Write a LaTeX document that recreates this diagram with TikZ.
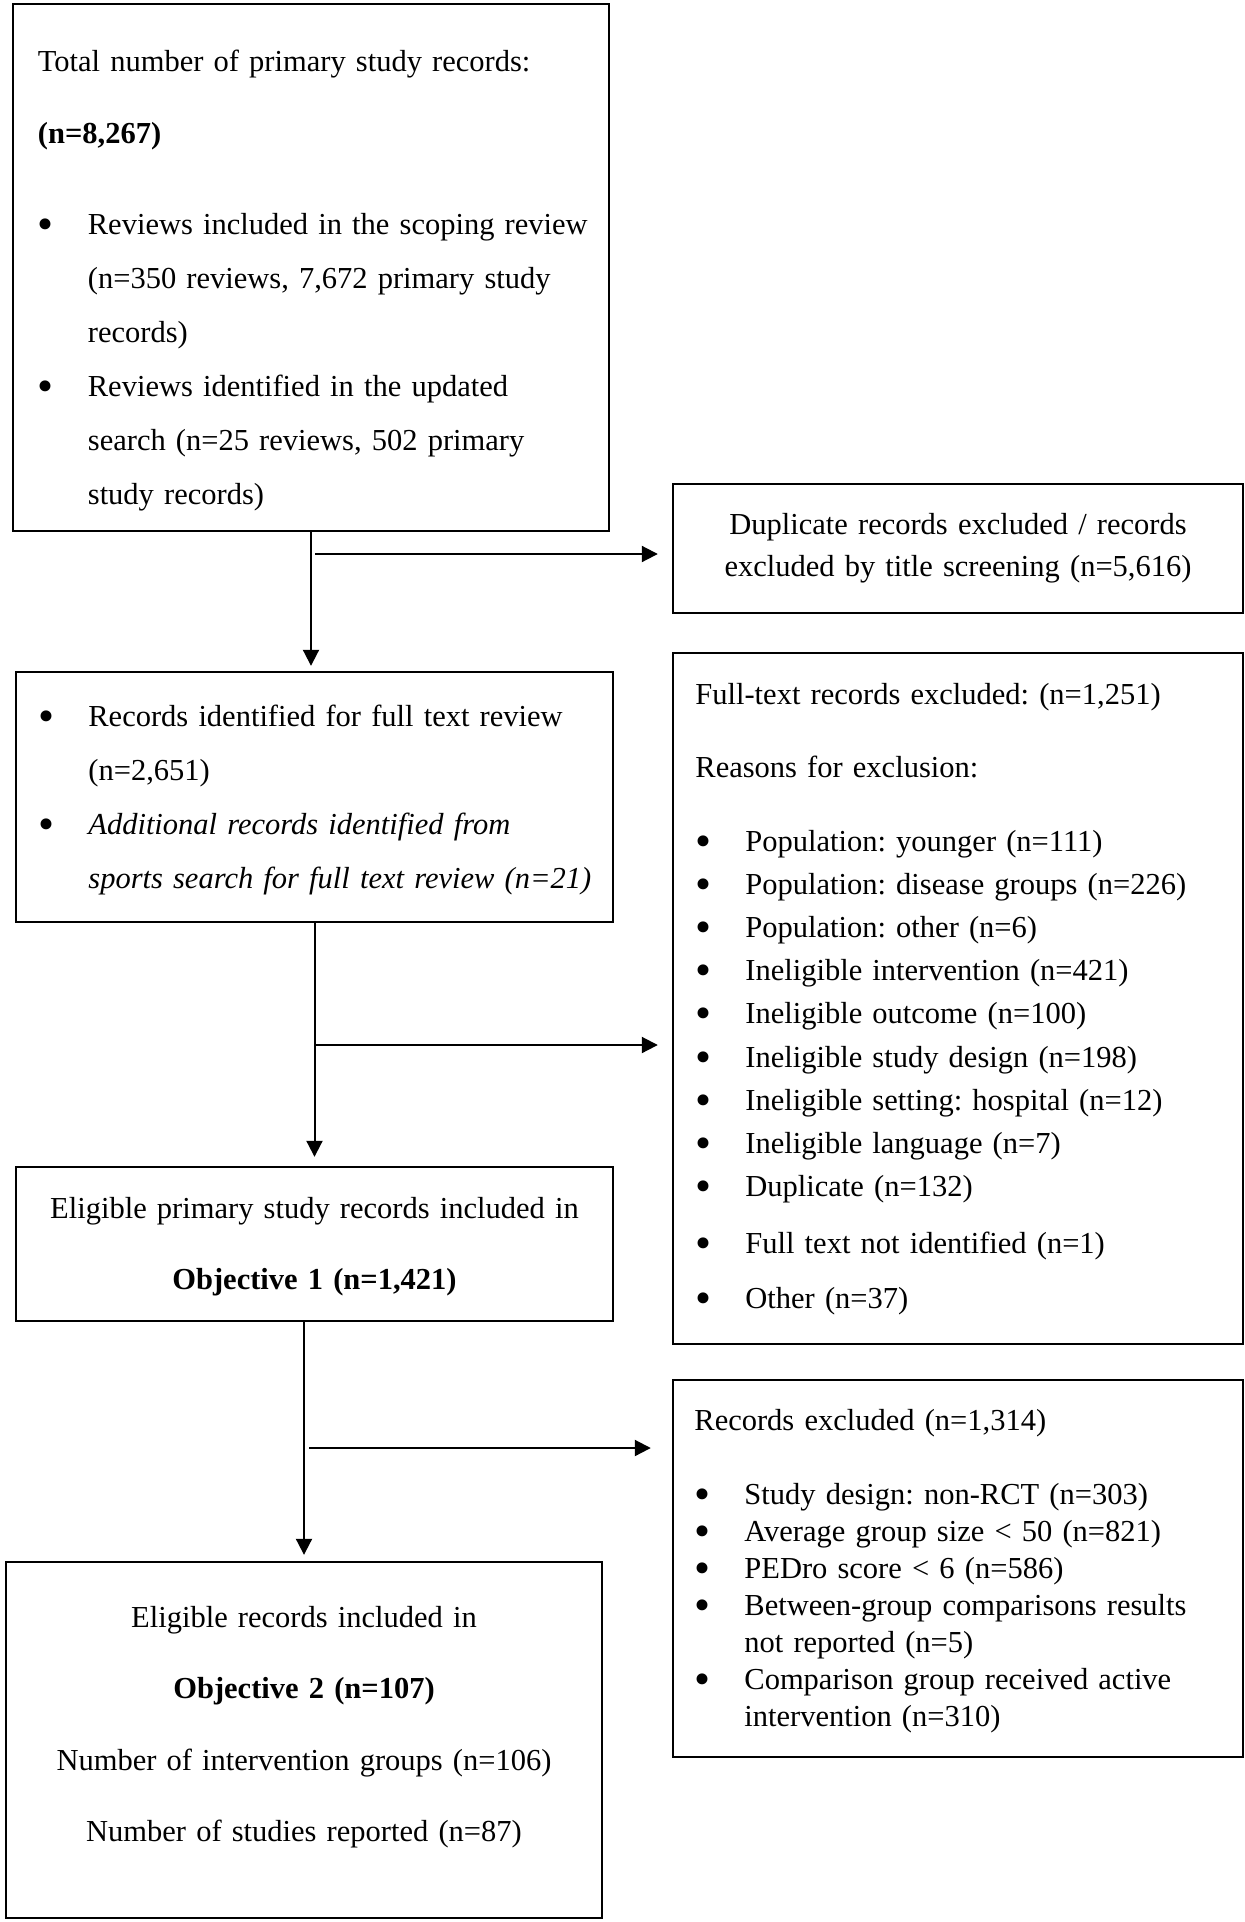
\documentclass[tikz,border=0pt]{standalone}
\usepackage{fontspec}
\usepackage{graphicx}
\setmainfont{Liberation Serif}
\usetikzlibrary{arrows.meta,positioning}
\frenchspacing

\newcommand{\bull}{\makebox[25pt][l]{\raisebox{-0.17em}{\scalebox{1.5}{\textbullet}}}}
\newcommand{\hang}{\hspace*{25pt}}

\tikzset{
  box/.style={draw, line width=1.2pt, inner sep=0pt},
  txt/.style={inner sep=0pt, align=left, anchor=base west, text width=300pt},
  ctxt/.style={inner sep=0pt, align=center, anchor=base, text width=300pt},
  flow/.style={line width=1pt, -{Triangle[length=8pt,width=8pt]}}
}

\begin{document}
\begin{tikzpicture}[x=0.5pt, y=-0.5pt]
\useasboundingbox (0,0) rectangle (1245,1922);

\node[box, minimum width=298pt, minimum height=263.5pt] (total) at (311,267.5) {};
\node[box, minimum width=285pt, minimum height=64.5pt] (dup) at (958,548.5) {};
\node[box, minimum width=298.5pt, minimum height=125pt] (fulltext) at (314.5,797) {};
\node[box, minimum width=285pt, minimum height=345.5pt] (reasons) at (958,998.5) {};
\node[box, minimum width=298.5pt, minimum height=77pt] (obj1) at (314.5,1244) {};
\node[box, minimum width=285pt, minimum height=188.5pt] (excl) at (958,1568.5) {};
\node[box, minimum width=298pt, minimum height=178pt] (obj2) at (304,1740) {};

\node[txt, font=\fontsize{15.25}{27}\selectfont] (totaltxt) at (37.5,71) {Total number of primary study records:\\[9pt]
\textbf{(n=8,267)}\\[18.5pt]
\bull Reviews included in the scoping review\\
\hang (n=350 reviews, 7,672 primary study\\
\hang records)\\
\bull Reviews identified in the updated\\
\hang search (n=25 reviews, 502 primary\\
\hang study records)};
\node[ctxt, text width=280pt, font=\fontsize{15.25}{21}\selectfont] (duptxt) at (958,534) {Duplicate records excluded / records\\
excluded by title screening (n=5,616)};
\node[txt, font=\fontsize{15.25}{27}\selectfont] (fulltexttxt) at (38,726) {\bull Records identified for full text review\\
\hang (n=2,651)\\
\bull \textit{Additional records identified from}\\
\hang \textit{sports search for full text review (n=21)}};
\node[txt, text width=280pt, font=\fontsize{15.25}{21.6}\selectfont] (reasonstxt) at (695,704) {Full-text records excluded: (n=1,251)\\[14.9pt]
Reasons for exclusion:\\[15.4pt]
\bull Population: younger (n=111)\\
\bull Population: disease groups (n=226)\\
\bull Population: other (n=6)\\
\bull Ineligible intervention (n=421)\\
\bull Ineligible outcome (n=100)\\
\bull Ineligible study design (n=198)\\
\bull Ineligible setting: hospital (n=12)\\
\bull Ineligible language (n=7)\\
\bull Duplicate (n=132)\\[6.6pt]
\bull Full text not identified (n=1)\\[5.9pt]
\bull Other (n=37)};
\node[ctxt, font=\fontsize{15.25}{35.5}\selectfont] (obj1txt) at (314.5,1218) {Eligible primary study records included in\\
\textbf{Objective 1 (n=1,421)}};
\node[txt, text width=280pt, font=\fontsize{15.25}{18.5}\selectfont] (excltxt) at (694,1430) {Records excluded (n=1,314)\\[18.5pt]
\bull Study design: non-RCT (n=303)\\
\bull Average group size < 50 (n=821)\\
\bull PEDro score < 6 (n=586)\\
\bull Between-group comparisons results\\
\hang not reported (n=5)\\
\bull Comparison group received active\\
\hang intervention (n=310)};
\node[ctxt, font=\fontsize{15.25}{35.75}\selectfont] (obj2txt) at (304,1627) {Eligible records included in\\
\textbf{Objective 2 (n=107)}\\
Number of intervention groups (n=106)\\
Number of studies reported (n=87)};

\coordinate (split1) at (315,554);
\coordinate (split2) at (316,1045);
\coordinate (split3) at (309,1448);

\draw[flow, shorten >=2.5pt] (total.south) -- (total.south |- fulltext.north);
\draw[flow, shorten >=7pt] (split1) -- (split1 -| dup.west);
\draw[flow, shorten >=4.5pt] (fulltext.south) -- (obj1.north);
\draw[flow, shorten >=7pt] (split2) -- (split2 -| reasons.west);
\draw[flow, shorten >=3pt] (obj1.south -| obj2.north) -- (obj2.north);
\draw[flow, shorten >=10.5pt] (split3) -- (split3 -| excl.west);
\end{tikzpicture}
\end{document}
